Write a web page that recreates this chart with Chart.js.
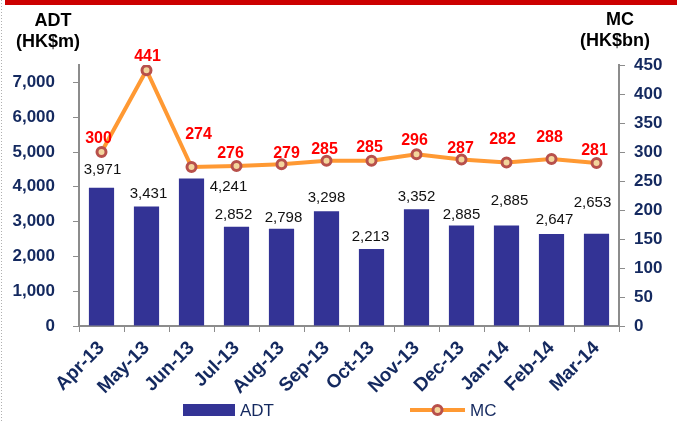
<!DOCTYPE html>
<html>
<head>
<meta charset="utf-8">
<script src="https://cdn.jsdelivr.net/npm/chart.js@4/dist/chart.umd.min.js"></script>
<style>
html,body{margin:0;padding:0;background:#fff;}
#wrap{width:677px;height:422px;position:relative;}
</style>
</head>
<body>
<div id="wrap"><canvas id="c" width="677" height="422"></canvas></div>
<script>
// ---- data ----
const categories = ['Apr-13','May-13','Jun-13','Jul-13','Aug-13','Sep-13','Oct-13','Nov-13','Dec-13','Jan-14','Feb-14','Mar-14'];
const adtValues = [3971, 3431, 4241, 2852, 2798, 3298, 2213, 3352, 2885, 2885, 2647, 2653];
const mcValues = [300, 441, 274, 276, 279, 285, 285, 296, 287, 282, 288, 281];
const leftTicks = [0, 1000, 2000, 3000, 4000, 5000, 6000, 7000];
const rightTicks = [0, 50, 100, 150, 200, 250, 300, 350, 400, 450];
const leftAxisTitle = ['ADT', '(HK$m)'];
const rightAxisTitle = ['MC', '(HK$bn)'];

// ---- label placement (manual offsets as in the original) ----
const adtLabelOffsets = [[1,-18],[2,-13],[37,8],[-3,-11.5],[2,-11],[0,-13],[-1,-12],[0,-12],[0,-11],[3,-25],[3,-14],[-4,-31]];
const mcLabelOffsets = [[-3,-13],[1,-14],[7,-32],[-6,-12],[5,-11],[-2,-11],[-2,-13],[-2,-14],[-1,-11],[-4,-23],[-2,-21],[-2,-12]];

const NAVY = '#14295f';
const BAR = '#333395';
const LINE = '#FF9933';
const PT_BORDER = '#B8504B';
const PT_FILL = '#F3D59C';
const AXIS = '#8c8c8c';

const fmt = v => v.toLocaleString('en-US');

const decorPlugin = {
  id: 'decor',
  beforeDraw(chart) {
    const ctx = chart.ctx;
    ctx.save();
    ctx.fillStyle = '#fff';
    ctx.fillRect(0, 0, chart.width, chart.height);
    ctx.fillStyle = '#CC0000';
    ctx.fillRect(5, 0, chart.width - 5, 5);
    ctx.strokeStyle = '#b0b0b0';
    ctx.lineWidth = 1;
    ctx.setLineDash([1, 2]);
    ctx.beginPath();
    ctx.moveTo(1.5, 0);
    ctx.lineTo(1.5, chart.height);
    ctx.stroke();
    ctx.restore();
  },
  afterDraw(chart) {
    const ctx = chart.ctx;
    ctx.save();
    ctx.fillStyle = '#000';
    ctx.font = 'bold 18px "Liberation Sans", Arial, sans-serif';
    ctx.textAlign = 'center';
    ctx.textBaseline = 'middle';
    ctx.fillText(leftAxisTitle[0], 53, 21);
    ctx.fillText(leftAxisTitle[1], 48, 42);
    ctx.fillText(rightAxisTitle[0], 620, 20);
    ctx.fillText(rightAxisTitle[1], 615, 41);

    const barMeta = chart.getDatasetMeta(0);
    ctx.font = '15px "Liberation Sans", Arial, sans-serif';
    ctx.fillStyle = '#111';
    barMeta.data.forEach((el, i) => {
      const o = adtLabelOffsets[i];
      ctx.fillText(fmt(adtValues[i]), el.x + o[0], el.y + o[1]);
    });
    const lineMeta = chart.getDatasetMeta(1);
    ctx.font = 'bold 16px "Liberation Sans", Arial, sans-serif';
    ctx.fillStyle = '#FF0000';
    lineMeta.data.forEach((el, i) => {
      const o = mcLabelOffsets[i];
      ctx.fillText(String(mcValues[i]), el.x + o[0], el.y + o[1]);
    });

    const ds0 = chart.data.datasets[0], ds1 = chart.data.datasets[1];
    ctx.fillStyle = ds0.backgroundColor;
    ctx.fillRect(183, 404, 52, 12);
    ctx.font = '17px "Liberation Sans", Arial, sans-serif';
    ctx.fillStyle = NAVY;
    ctx.textAlign = 'left';
    ctx.fillText(ds0.label, 240, 411);
    ctx.strokeStyle = ds1.borderColor;
    ctx.lineWidth = 4;
    ctx.beginPath();
    ctx.moveTo(410, 410);
    ctx.lineTo(465, 410);
    ctx.stroke();
    ctx.beginPath();
    ctx.arc(437.5, 410, 4.5, 0, Math.PI * 2);
    ctx.fillStyle = ds1.pointBackgroundColor;
    ctx.fill();
    ctx.lineWidth = 3;
    ctx.strokeStyle = ds1.pointBorderColor;
    ctx.stroke();
    ctx.fillStyle = NAVY;
    ctx.fillText(ds1.label, 470, 411);
    ctx.restore();
  }
};

new Chart(document.getElementById('c'), {
  type: 'bar',
  data: {
    labels: categories,
    datasets: [
      {
        type: 'bar',
        label: 'ADT',
        data: adtValues,
        yAxisID: 'y',
        backgroundColor: BAR,
        borderWidth: 0,
        categoryPercentage: 1,
        barPercentage: 0.56,
        order: 1
      },
      {
        type: 'line',
        label: 'MC',
        data: mcValues,
        yAxisID: 'y1',
        borderColor: LINE,
        borderWidth: 4,
        pointRadius: 4.5,
        pointBorderWidth: 3,
        pointBorderColor: PT_BORDER,
        pointBackgroundColor: PT_FILL,
        tension: 0,
        order: 0
      }
    ]
  },
  options: {
    responsive: false,
    animation: false,
    devicePixelRatio: 1,
    layout: { padding: { top: 65, left: 0, right: 0, bottom: 0 } },
    plugins: { legend: { display: false }, tooltip: { enabled: false } },
    scales: {
      x: {
        grid: { drawOnChartArea: false, offset: true, tickLength: 6, color: AXIS, lineWidth: 1 },
        border: { color: AXIS, width: 2 },
        ticks: {
          color: NAVY,
          font: { family: '"Liberation Sans", Arial, sans-serif', size: 19, weight: 'bold' },
          minRotation: 45, maxRotation: 45, autoSkip: false, padding: 5
        },
        afterFit(s) { s.height = 96; }
      },
      y: {
        position: 'left',
        min: 0, max: 7500,
        grid: { drawOnChartArea: false, tickLength: 6, lineWidth: 1, color: AXIS },
        border: { color: AXIS, width: 2 },
        ticks: {
          color: NAVY,
          padding: 18,
          font: { family: '"Liberation Sans", Arial, sans-serif', size: 17, weight: 'bold' },
          callback: v => fmt(v)
        },
        afterBuildTicks(s) { s.ticks = leftTicks.map(v => ({ value: v })); },
        afterFit(s) { s.width = 79; }
      },
      y1: {
        position: 'right',
        min: 0, max: 450,
        grid: { drawOnChartArea: false, tickLength: 6, color: AXIS, lineWidth: 1 },
        border: { color: AXIS, width: 2 },
        ticks: {
          color: NAVY,
          padding: 9,
          font: { family: '"Liberation Sans", Arial, sans-serif', size: 17, weight: 'bold' }
        },
        afterBuildTicks(s) { s.ticks = rightTicks.map(v => ({ value: v })); },
        afterFit(s) { s.width = 58; }
      }
    }
  },
  plugins: [decorPlugin]
});
</script>
</body>
</html>
